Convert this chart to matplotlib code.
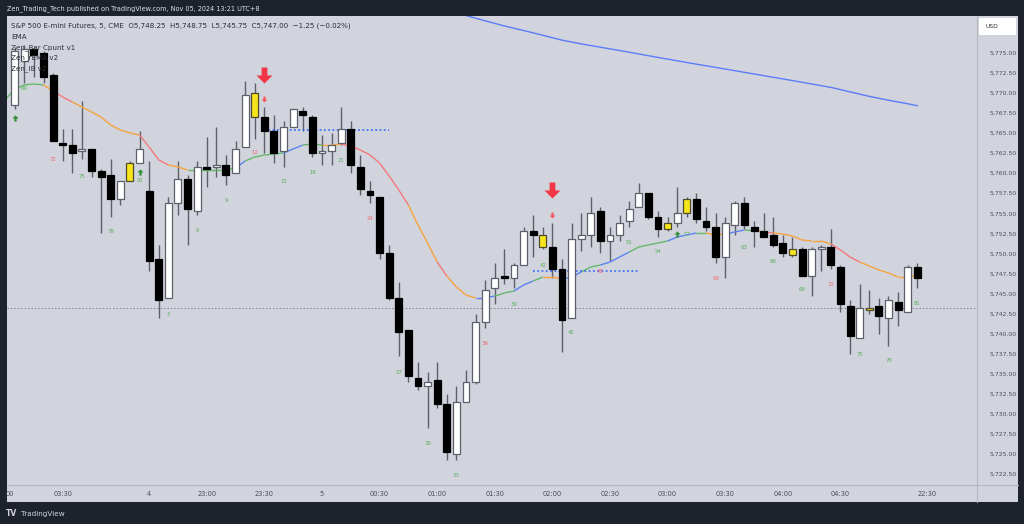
import matplotlib
matplotlib.use("Agg")
import matplotlib.pyplot as plt
import numpy as np
from matplotlib.collections import LineCollection
from matplotlib.patches import Rectangle
from matplotlib.lines import Line2D
from matplotlib.path import Path

# ---------------- data ----------------
bar_index = list(range(1, 96))
opens = [5768.5, 5774.0, 5775.5, 5775.0, 5772.25, 5763.75, 5763.5, 5762.75, 5763.0, 5760.25,
         5759.75, 5756.75, 5759.0, 5761.25, 5757.75, 5749.25, 5744.5, 5756.25, 5759.25, 5755.25,
         5760.75, 5760.75, 5761.0, 5760.0, 5763.25, 5770.0, 5767.0, 5765.25, 5762.75, 5765.75,
         5767.75, 5767.0, 5762.5, 5762.75, 5763.75, 5765.5, 5760.75, 5757.75, 5757.0, 5750.0,
         5744.5, 5740.5, 5734.5, 5733.5, 5734.25, 5731.25, 5725.0, 5731.5, 5734.0, 5741.5,
         5745.75, 5747.25, 5747.0, 5748.5, 5752.75, 5752.25, 5750.75, 5748.0, 5742.0, 5751.75,
         5752.25, 5755.25, 5751.5, 5752.25, 5754.0, 5755.75, 5757.5, 5754.5, 5753.0, 5753.75,
         5755.0, 5756.75, 5754.0, 5753.25, 5749.5, 5753.5, 5756.25, 5753.25, 5752.75, 5752.25,
         5751.25, 5750.5, 5750.5, 5747.25, 5750.5, 5750.75, 5748.25, 5743.5, 5739.5, 5743.25,
         5743.5, 5742.0, 5744.0, 5742.75, 5748.25]
highs = [5775.75, 5776.0, 5775.75, 5775.25, 5772.5, 5765.5, 5765.5, 5769.0, 5763.0, 5760.5,
         5761.75, 5759.0, 5761.5, 5765.25, 5761.5, 5751.0, 5757.0, 5761.5, 5759.75, 5761.5,
         5764.5, 5765.75, 5762.25, 5764.0, 5771.5, 5771.25, 5768.25, 5767.25, 5766.5, 5768.0,
         5768.25, 5767.25, 5764.75, 5765.0, 5768.25, 5766.5, 5762.25, 5759.0, 5757.0, 5751.0,
         5746.5, 5740.5, 5736.5, 5735.25, 5736.5, 5732.5, 5733.5, 5735.5, 5742.5, 5746.75,
         5748.75, 5750.5, 5748.75, 5753.25, 5754.75, 5753.25, 5753.75, 5749.25, 5753.75, 5755.0,
         5757.0, 5755.75, 5753.25, 5754.75, 5756.5, 5758.75, 5757.5, 5755.25, 5754.5, 5758.25,
         5757.0, 5757.5, 5755.75, 5755.0, 5754.5, 5756.5, 5757.0, 5754.0, 5755.0, 5754.5,
         5752.25, 5752.0, 5750.75, 5750.75, 5751.0, 5753.0, 5748.5, 5744.25, 5746.25, 5745.5,
         5744.5, 5744.75, 5745.25, 5748.5, 5748.75]
lows = [5768.0, 5771.25, 5772.0, 5771.25, 5764.0, 5761.5, 5760.0, 5761.75, 5759.5, 5752.5,
        5754.5, 5756.0, 5759.0, 5761.25, 5747.75, 5742.0, 5744.5, 5754.75, 5751.0, 5754.75,
        5758.25, 5759.5, 5758.5, 5760.0, 5763.25, 5764.25, 5762.5, 5761.25, 5760.75, 5765.75,
        5765.25, 5762.0, 5761.0, 5761.0, 5763.5, 5760.0, 5757.25, 5756.25, 5749.25, 5744.25,
        5737.25, 5734.0, 5733.0, 5728.25, 5730.75, 5724.25, 5724.25, 5731.5, 5733.75, 5740.75,
        5743.75, 5746.25, 5745.75, 5748.5, 5749.5, 5750.5, 5747.0, 5737.75, 5742.0, 5750.25,
        5750.75, 5750.0, 5749.0, 5751.5, 5753.25, 5755.75, 5754.25, 5752.0, 5752.75, 5753.25,
        5754.5, 5753.75, 5752.75, 5748.75, 5747.0, 5752.25, 5753.0, 5750.75, 5752.0, 5750.75,
        5749.5, 5749.5, 5747.25, 5744.75, 5747.75, 5748.0, 5742.75, 5737.5, 5739.5, 5742.5,
        5740.0, 5738.5, 5741.0, 5742.75, 5745.75]
closes = [5775.25, 5775.5, 5774.75, 5772.0, 5764.0, 5763.5, 5762.5, 5763.0, 5760.25, 5759.5,
          5756.75, 5759.0, 5761.25, 5763.0, 5749.0, 5744.25, 5756.25, 5759.25, 5755.5, 5760.75,
          5760.5, 5761.0, 5759.75, 5763.0, 5769.75, 5767.0, 5765.25, 5762.5, 5765.75, 5768.0,
          5767.25, 5762.5, 5762.75, 5763.5, 5765.5, 5761.0, 5758.0, 5757.25, 5750.0, 5744.5,
          5740.25, 5734.75, 5733.5, 5734.0, 5731.25, 5725.25, 5731.5, 5734.0, 5741.5, 5745.5,
          5747.0, 5747.0, 5748.5, 5752.75, 5752.25, 5750.75, 5748.0, 5741.75, 5751.75, 5752.25,
          5755.0, 5751.5, 5752.25, 5753.75, 5755.5, 5757.5, 5754.5, 5753.0, 5753.75, 5755.0,
          5756.75, 5754.25, 5753.25, 5749.5, 5753.75, 5756.25, 5753.5, 5752.75, 5752.0, 5751.0,
          5750.0, 5749.75, 5747.25, 5750.5, 5750.75, 5748.5, 5743.75, 5739.75, 5743.25, 5743.0,
          5742.25, 5744.25, 5743.0, 5748.25, 5747.0]
inside_bars = [13, 26, 56, 69, 71, 82, 90]   # yellow candles

ema_index = list(range(0, 96))
ema_values = [5769.11, 5770.48, 5770.98, 5771.10, 5770.98, 5770.23, 5769.48, 5768.86, 5768.24, 5767.62,
              5766.99, 5766.00, 5765.37, 5765.00, 5764.75, 5763.26, 5761.64, 5761.02, 5760.77, 5760.39,
              5760.39, 5760.39, 5760.39, 5760.39, 5760.64, 5761.51, 5762.01, 5762.26, 5762.38, 5762.51,
              5763.01, 5763.50, 5763.63, 5763.50, 5763.50, 5763.63, 5763.38, 5762.88, 5762.26, 5761.26,
              5759.64, 5757.90, 5756.03, 5753.54, 5751.30, 5748.93, 5747.19, 5745.82, 5744.82, 5744.45,
              5744.45, 5744.70, 5745.07, 5745.32, 5746.07, 5746.57, 5747.06, 5747.06, 5746.81, 5747.06,
              5747.69, 5748.31, 5748.56, 5748.93, 5749.55, 5750.18, 5750.80, 5751.05, 5751.30, 5751.55,
              5752.05, 5752.30, 5752.55, 5752.55, 5752.30, 5752.42, 5752.67, 5752.92, 5752.80, 5752.67,
              5752.55, 5752.42, 5752.17, 5751.67, 5751.55, 5751.55, 5751.18, 5750.43, 5749.55, 5748.93,
              5748.44, 5747.94, 5747.56, 5747.06, 5747.06, 5747.31]
# colour state of each EMA segment as (state, number of segments)
ema_state_runs = [("g", 4), ("o", 1), ("r", 2), ("o", 7), ("r", 3), ("o", 2), ("g", 5), ("b", 1),
                  ("g", 4), ("b", 2), ("g", 2), ("o", 2), ("r", 7), ("o", 3), ("r", 1), ("o", 3),
                  ("b", 2), ("g", 2), ("b", 2), ("g", 1), ("o", 2), ("b", 2), ("g", 2), ("b", 3),
                  ("g", 4), ("b", 3), ("g", 1), ("o", 2), ("b", 2), ("g", 1), ("o", 1), ("r", 1),
                  ("o", 6), ("r", 3), ("o", 6)]

long_ema_index = [46, 48, 50, 52, 54, 56, 58, 60, 62, 64, 66, 68, 70, 72, 74, 76, 78, 80, 82, 84,
                  86, 88, 90, 92, 94, 95]
long_ema_values = [5780.29, 5779.63, 5778.97, 5778.33, 5777.76, 5777.17, 5776.56, 5776.10, 5775.68,
                   5775.27, 5774.84, 5774.41, 5773.99, 5773.57, 5773.17, 5772.76, 5772.35, 5771.94,
                   5771.53, 5771.10, 5770.68, 5770.12, 5769.56, 5769.08, 5768.64, 5768.40]

count_bars = [2, 5, 8, 11, 14, 17, 20, 23, 26, 29, 32, 35, 38, 41, 44, 47, 50, 53, 56, 59,
              62, 65, 68, 71, 74, 77, 80, 83, 86, 89, 92, 95]
count_text = ["69", "72", "75", "78", "81", "3", "6", "9", "12", "15", "18", "21", "24", "27",
              "30", "33", "36", "39", "42", "45", "48", "51", "54", "57", "60", "63", "66", "69",
              "72", "75", "78", "81"]
count_price = [5770.6, 5761.75, 5759.6, 5752.7, 5759.1, 5742.4, 5752.9, 5756.6, 5762.6, 5758.9,
               5760.1, 5761.6, 5754.4, 5735.2, 5726.3, 5722.3, 5738.8, 5743.7, 5748.55, 5740.1,
               5747.8, 5751.4, 5750.2, 5752.4, 5746.9, 5750.8, 5749.0, 5745.45, 5746.1, 5737.4,
               5736.7, 5743.8]
count_state = ["g", "r", "g", "g", "g", "g", "g", "g", "r", "g", "g", "g", "r", "g", "g", "g",
               "r", "g", "g", "g", "r", "g", "g", "g", "r", "g", "g", "g", "r", "g", "g", "g"]

sell_big_bars = [27, 57]
sell_big_price = [5772.2, 5757.9]
sell_small_bars = [27, 57]
sell_small_price = [5769.2, 5754.8]
buy_small_bars = [1, 14, 70]
buy_small_price = [5766.9, 5760.15, 5752.4]

ib_start = [27, 55]
ib_end = [40, 66]
ib_price = [5765.4, 5747.8]
ref_line_price = 5743.25

time_tick_pos = [0.5, 6, 15, 21, 27, 33, 39, 45, 51, 57, 63, 69, 75, 81, 87, 96]
time_tick_labels = ["00", "03:30", "4", "23:00", "23:30", "5", "00:30", "01:00", "01:30", "02:00",
                    "02:30", "03:00", "03:30", "04:00", "04:30", "22:30"]
price_ticks = [5722.5, 5725.0, 5727.5, 5730.0, 5732.5, 5735.0, 5737.5, 5740.0, 5742.5, 5745.0,
               5747.5, 5750.0, 5752.5, 5755.0, 5757.5, 5760.0, 5762.5, 5765.0, 5767.5, 5770.0,
               5772.5, 5775.0]

# ---------------- style ----------------
W, H = 1024, 524
DARK = "#1e222d"
PANEL = "#d1d4dc"
TXT = "#2a2e39"
AX_TXT = "#4a4e59"
FONT = "DejaVu Sans"
plt.rcParams["font.family"] = [FONT]
state_color = {"g": "#63b867", "o": "#f7a33e", "r": "#f4787d", "b": "#5b82f5"}
label_color = {"g": "#5aae5e", "r": "#f06a72"}

fig = plt.figure(figsize=(W / 100, H / 100), dpi=100, facecolor=DARK)


def fx(xp):
    return xp / W


def fy(yp):
    return 1 - yp / H


# light panel (chart + scales)
fig.add_artist(Rectangle((fx(7), fy(502)), fx(1018) - fx(7), fy(16) - fy(502),
                         transform=fig.transFigure, facecolor=PANEL, edgecolor="none", zorder=0))

ax = fig.add_axes([fx(7), fy(485), fx(977) - fx(7), fy(16) - fy(485)])
ax.set_facecolor(PANEL)
for s in ax.spines.values():
    s.set_visible(False)

# separators
fig.add_artist(Line2D([fx(977), fx(977)], [fy(16), fy(502)], transform=fig.transFigure,
                      color="#b4b7c0", lw=0.8, zorder=5))
fig.add_artist(Line2D([fx(7), fx(1018)], [fy(485), fy(485)], transform=fig.transFigure,
                      color="#b4b7c0", lw=0.8, zorder=5))

x = np.array(bar_index, dtype=float)
o = np.array(opens)
h = np.array(highs)
l = np.array(lows)
c = np.array(closes)
is_yellow = np.isin(x.astype(int), inside_bars)
up = c >= o
face = np.where(is_yellow, "#f7e51b", np.where(up, "#ffffff", "#000000"))
edge = np.where(is_yellow, "#4d4a2e", np.where(up, "#5d606b", "#000000"))

# reference dotted line
ax.axhline(ref_line_price, color="#80838e", lw=0.7, ls=(0, (1.5, 2.0)), zorder=1)

# wicks and bodies
ax.vlines(x, l, h, colors="#5d606b", lw=1.0, zorder=2)
body_h = np.maximum(np.abs(c - o), 0.12)
ax.bar(x, body_h, bottom=np.minimum(o, c), width=0.72, color=list(face), edgecolor=list(edge),
       linewidth=0.9, zorder=3)

# long EMA
ax.plot(long_ema_index, long_ema_values, color="#5b7cfa", lw=1.0, zorder=2)

# coloured short EMA
states = []
for st, n in ema_state_runs:
    states += [st] * n
pts = np.column_stack([np.array(ema_index, float), np.array(ema_values)])
segs = np.stack([pts[:-1], pts[1:]], axis=1)
lc = LineCollection(segs, colors=[state_color[s] for s in states], linewidths=1.0, zorder=2.5)
ax.add_collection(lc)

# inside-bar dotted levels
ax.hlines(ib_price, ib_start, ib_end, colors="#2962ff", linestyles=(0, (1.2, 1.6)), lw=1.1, zorder=2.6)

# count labels
for b, t, p, s in zip(count_bars, count_text, count_price, count_state):
    ax.text(b, p, t, ha="center", va="center", fontsize=3.9, color=label_color[s], zorder=4)

# arrows
arrow_down = Path([(-0.18, 0.5), (0.18, 0.5), (0.18, 0.0), (0.5, 0.0), (0.0, -0.5), (-0.5, 0.0),
                   (-0.18, 0.0), (-0.18, 0.5)],
                  [Path.MOVETO] + [Path.LINETO] * 6 + [Path.CLOSEPOLY])
arrow_up = Path([(-0.18, -0.5), (0.18, -0.5), (0.18, 0.0), (0.5, 0.0), (0.0, 0.5), (-0.5, 0.0),
                 (-0.18, 0.0), (-0.18, -0.5)],
                [Path.MOVETO] + [Path.LINETO] * 6 + [Path.CLOSEPOLY])
ax.plot(sell_big_bars, sell_big_price, ls="none", marker=arrow_down, ms=11.5, color="#f23645",
        mec="none", zorder=5)
ax.plot(sell_small_bars, sell_small_price, ls="none", marker=arrow_down, ms=4.2, color="#f4525e",
        mec="none", zorder=5)
ax.plot(buy_small_bars, buy_small_price, ls="none", marker=arrow_up, ms=4.5, color="#2f8f3a",
        mec="none", zorder=5)

# axes ranges & ticks
ax.set_xlim(0.198, 101.22)
ax.set_ylim(5721.16, 5779.57)
ax.yaxis.tick_right()
ax.set_yticks(price_ticks)
ax.set_yticklabels([f"{v:,.2f}" for v in price_ticks])
ax.tick_params(axis="y", length=0, pad=9.3, labelsize=4.4, labelcolor=AX_TXT)
for t in ax.get_yticklabels():
    t.set_horizontalalignment("left")
ax.set_xticks(time_tick_pos)
ax.set_xticklabels(time_tick_labels)
ax.tick_params(axis="x", length=0, pad=4.0, labelsize=4.75, labelcolor=AX_TXT)
ax.grid(False)

# legend / header texts
fig.text(fx(7), fy(9), "Zen_Trading_Tech published on TradingView.com, Nov 05, 2024 13:21 UTC+8",
         ha="left", va="center", fontsize=4.7, color="#dfe2e8")
legend_lines = [
    ("S&P 500 E-mini Futures, 5, CME  O5,748.25  H5,748.75  L5,745.75  C5,747.00  \u22121.25 (\u22120.02%)", 25.5),
    ("EMA", 37),
    ("Zen_Bar Cpunt v1", 47.5),
    ("Zen_rEMA v2", 58),
    ("Zen_IB v2", 68.5),
]
for txt, yy in legend_lines:
    fig.text(fx(11), fy(yy), txt, ha="left", va="center", fontsize=5.1, color=TXT, zorder=10)

# USD box
fig.add_artist(Rectangle((fx(979), fy(35)), fx(1016) - fx(979), fy(18) - fy(35),
                         transform=fig.transFigure, facecolor="#ffffff", edgecolor="none", zorder=6))
fig.text(fx(986), fy(26.5), "USD", ha="left", va="center", fontsize=4.3, color=TXT, zorder=7)

# footer
fig.text(fx(6), fy(514), "TV", ha="left", va="center", fontsize=5.5, fontweight="heavy",
         color="#d1d4dc")
fig.text(fx(21), fy(514), "TradingView", ha="left", va="center", fontsize=5.2, color="#d1d4dc")

fig.savefig("out.png", dpi=100, facecolor=DARK)
